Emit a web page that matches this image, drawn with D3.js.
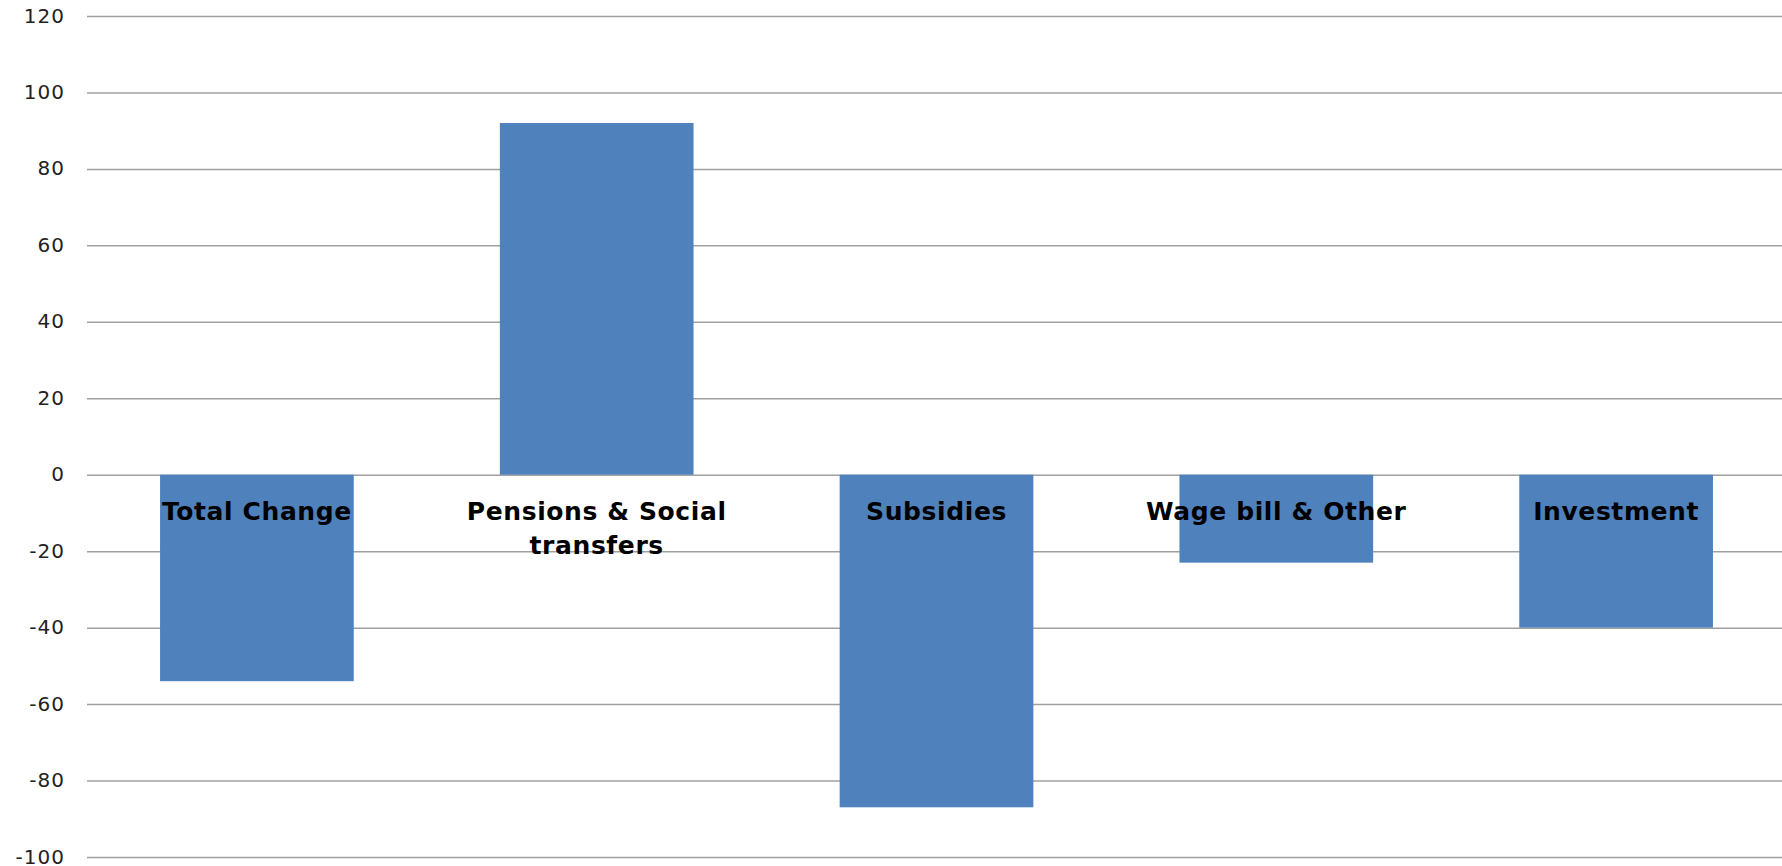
<!DOCTYPE html>
<html>
<head>
<meta charset="utf-8">
<script src="https://cdn.jsdelivr.net/npm/d3@7"></script>
<style>
  body { margin: 0; background: #fff; }
  .tick text { font-family: "DejaVu Sans", Verdana, sans-serif; }
</style>
</head>
<body>
<script>
var categories = ["Total Change", "Pensions & Social transfers", "Subsidies", "Wage bill & Other", "Investment"];
var labelLines = [["Total Change"], ["Pensions & Social", "transfers"], ["Subsidies"], ["Wage bill & Other"], ["Investment"]];
var values = [-54, 92, -87, -23, -40];
var yTicks = [-100, -80, -60, -40, -20, 0, 20, 40, 60, 80, 100, 120];

var width = 1782, height = 866;
var plotLeft = 87, plotRight = 1786, plotTop = 16, plotBottom = 857;

var svg = d3.select("body").append("svg")
    .attr("width", width)
    .attr("height", height);

var x = d3.scaleBand()
    .domain(categories)
    .range([plotLeft, plotRight])
    .paddingInner(0.43)
    .paddingOuter(0.215);

var y = d3.scaleLinear()
    .domain([-100, 120])
    .range([plotBottom, plotTop]);

// gridlines
svg.append("g")
    .attr("transform", "translate(" + plotLeft + ",0)")
    .call(d3.axisLeft(y).tickValues(yTicks).tickSize(-(width - plotLeft)).tickFormat(""))
    .call(function(g) {
        g.select(".domain").remove();
        g.selectAll(".tick line").attr("stroke", "#a0a0a0").attr("stroke-width", 1.5);
    });

// tick labels
svg.append("g")
    .attr("transform", "translate(" + plotLeft + ",0)")
    .call(d3.axisLeft(y).tickValues(yTicks).tickSize(0).tickPadding(22)
        .tickFormat(function(d) { return String(d); }))
    .call(function(g) {
        g.select(".domain").remove();
        g.selectAll(".tick text")
            .attr("font-size", 20)
            .attr("dy", "0.3em")
            .attr("fill", "#222")
            .attr("letter-spacing", 1);
    });

svg.append("g").selectAll("rect")
    .data(values)
    .enter().append("rect")
    .attr("x", function(d, i) { return x(categories[i]); })
    .attr("width", x.bandwidth())
    .attr("y", function(d) { return y(Math.max(0, d)); })
    .attr("height", function(d) { return Math.abs(y(d) - y(0)); })
    .attr("fill", "#4f81bd");

// category labels
var lab = svg.append("g").selectAll("text")
    .data(categories)
    .enter().append("text")
    .attr("x", function(d) { return x(d) + x.bandwidth() / 2; })
    .attr("y", y(0) + 45)
    .attr("text-anchor", "middle")
    .style("font-family", "'DejaVu Sans', sans-serif")
    .style("font-weight", "bold")
    .style("font-size", "25px")
    .style("letter-spacing", "0.6px")
    .style("fill", "#000");

lab.each(function(d, i) {
    var t = d3.select(this);
    labelLines[i].forEach(function(line, j) {
        t.append("tspan")
            .attr("x", x(d) + x.bandwidth() / 2)
            .attr("dy", j === 0 ? 0 : 34)
            .text(line);
    });
});
</script>
</body>
</html>
